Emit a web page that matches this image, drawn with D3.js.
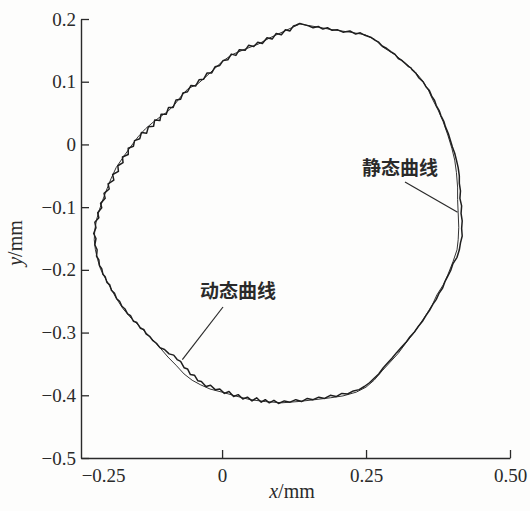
<!DOCTYPE html>
<html><head><meta charset="utf-8">
<script src="https://cdn.jsdelivr.net/npm/d3@7/dist/d3.min.js"></script>
<style>
html,body{margin:0;padding:0;background:#fdfdfc;}
svg{display:block;}
</style></head>
<body>
<svg id="chart" width="530" height="511"></svg>
<script>
const xTicks = [-0.25, 0, 0.25, 0.5];
const xTickLabels = ["\u22120.25", "0", "0.25", "0.50"];
const yTicks = [0.2, 0.1, 0, -0.1, -0.2, -0.3, -0.4, -0.5];
const yTickLabels = ["0.2", "0.1", "0", "\u22120.1", "\u22120.2", "\u22120.3", "\u22120.4", "\u22120.5"];
const xLabel = "mm";
const yLabel = "mm";
const seriesNames = ["静态曲线", "动态曲线"];

// 静态曲线 (static)
const staticX = [0.135,0.167,0.191,0.222,0.248,0.266,0.278,0.300,0.318,0.335,0.347,0.358,0.366,0.375,0.384,0.392,0.399,0.404,0.407,0.409,0.409,0.410,0.411,0.410,0.408,0.401,0.392,0.384,0.373,0.365,0.354,0.344,0.332,0.318,0.306,0.292,0.278,0.264,0.250,0.233,0.210,0.188,0.161,0.132,0.104,0.075,0.049,0.023,0.000,-0.021,-0.038,-0.052,-0.066,-0.080,-0.094,-0.108,-0.125,-0.142,-0.158,-0.172,-0.184,-0.194,-0.203,-0.211,-0.216,-0.220,-0.222,-0.221,-0.218,-0.213,-0.207,-0.200,-0.193,-0.184,-0.170,-0.159,-0.146,-0.133,-0.119,-0.106,-0.095,-0.083,-0.071,-0.059,-0.043,-0.028,-0.014,0.000,0.017,0.040,0.063,0.083,0.109];
const staticY = [0.192,0.187,0.183,0.179,0.175,0.167,0.156,0.143,0.130,0.116,0.103,0.087,0.071,0.055,0.036,0.015,-0.006,-0.025,-0.045,-0.068,-0.088,-0.109,-0.132,-0.152,-0.168,-0.187,-0.208,-0.224,-0.240,-0.256,-0.272,-0.286,-0.302,-0.318,-0.333,-0.347,-0.361,-0.376,-0.387,-0.395,-0.401,-0.404,-0.407,-0.410,-0.412,-0.410,-0.407,-0.401,-0.395,-0.390,-0.383,-0.376,-0.366,-0.352,-0.339,-0.324,-0.307,-0.291,-0.277,-0.262,-0.245,-0.228,-0.213,-0.199,-0.184,-0.168,-0.152,-0.136,-0.120,-0.104,-0.088,-0.071,-0.055,-0.037,-0.018,-0.004,0.012,0.025,0.036,0.045,0.052,0.063,0.077,0.089,0.096,0.108,0.120,0.132,0.143,0.152,0.160,0.170,0.181];

// 动态曲线 (dynamic)
const dynamicX = [0.128,0.135,0.150,0.158,0.167,0.175,0.183,0.191,0.200,0.210,0.222,0.232,0.240,0.248,0.258,0.266,0.272,0.278,0.286,0.293,0.300,0.306,0.312,0.318,0.324,0.328,0.330,0.336,0.342,0.349,0.354,0.360,0.364,0.369,0.372,0.377,0.380,0.385,0.388,0.393,0.396,0.400,0.404,0.407,0.410,0.412,0.412,0.414,0.413,0.416,0.415,0.417,0.416,0.417,0.414,0.412,0.408,0.401,0.397,0.392,0.387,0.383,0.377,0.372,0.366,0.360,0.354,0.348,0.341,0.334,0.326,0.319,0.311,0.303,0.295,0.287,0.280,0.272,0.265,0.256,0.247,0.238,0.228,0.218,0.208,0.198,0.188,0.178,0.168,0.158,0.148,0.138,0.128,0.118,0.108,0.098,0.090,0.082,0.075,0.068,0.060,0.052,0.044,0.036,0.028,0.020,0.012,0.004,-0.004,-0.012,-0.020,-0.028,-0.036,-0.042,-0.048,-0.055,-0.060,-0.066,-0.072,-0.078,-0.084,-0.092,-0.100,-0.108,-0.114,-0.120,-0.126,-0.132,-0.136,-0.142,-0.148,-0.154,-0.159,-0.164,-0.169,-0.174,-0.178,-0.183,-0.187,-0.192,-0.195,-0.200,-0.203,-0.207,-0.209,-0.213,-0.214,-0.218,-0.217,-0.221,-0.219,-0.223,-0.219,-0.221,-0.214,-0.216,-0.209,-0.211,-0.203,-0.205,-0.196,-0.198,-0.188,-0.190,-0.180,-0.181,-0.172,-0.173,-0.163,-0.163,-0.154,-0.152,-0.143,-0.140,-0.131,-0.128,-0.119,-0.117,-0.108,-0.106,-0.097,-0.093,-0.085,-0.080,-0.072,-0.068,-0.060,-0.054,-0.046,-0.040,-0.032,-0.026,-0.018,-0.012,-0.004,0.002,0.010,0.016,0.024,0.030,0.040,0.046,0.055,0.062,0.070,0.078,0.087,0.094,0.103,0.110,0.118,0.124];
const dynamicY = [0.190,0.193,0.189,0.186,0.188,0.184,0.186,0.182,0.183,0.179,0.181,0.176,0.178,0.174,0.171,0.166,0.163,0.157,0.153,0.148,0.144,0.137,0.134,0.129,0.124,0.122,0.119,0.114,0.106,0.100,0.092,0.086,0.077,0.070,0.062,0.054,0.046,0.037,0.028,0.017,0.008,-0.004,-0.014,-0.025,-0.037,-0.050,-0.062,-0.074,-0.086,-0.098,-0.110,-0.122,-0.134,-0.146,-0.157,-0.168,-0.180,-0.190,-0.201,-0.210,-0.219,-0.229,-0.237,-0.247,-0.255,-0.265,-0.273,-0.282,-0.290,-0.299,-0.307,-0.316,-0.324,-0.332,-0.341,-0.349,-0.356,-0.366,-0.372,-0.380,-0.386,-0.391,-0.393,-0.398,-0.397,-0.402,-0.400,-0.405,-0.403,-0.407,-0.405,-0.410,-0.407,-0.411,-0.409,-0.413,-0.408,-0.412,-0.407,-0.411,-0.404,-0.409,-0.403,-0.406,-0.399,-0.402,-0.394,-0.397,-0.390,-0.391,-0.384,-0.386,-0.378,-0.377,-0.368,-0.367,-0.358,-0.356,-0.346,-0.343,-0.336,-0.334,-0.327,-0.324,-0.317,-0.313,-0.306,-0.302,-0.295,-0.293,-0.284,-0.282,-0.273,-0.270,-0.262,-0.258,-0.250,-0.246,-0.237,-0.233,-0.224,-0.220,-0.211,-0.207,-0.198,-0.193,-0.184,-0.178,-0.168,-0.160,-0.150,-0.142,-0.133,-0.124,-0.117,-0.109,-0.101,-0.094,-0.086,-0.078,-0.071,-0.063,-0.057,-0.048,-0.043,-0.034,-0.029,-0.020,-0.016,-0.006,-0.003,0.006,0.009,0.019,0.018,0.028,0.029,0.039,0.038,0.048,0.048,0.059,0.059,0.071,0.072,0.082,0.084,0.094,0.093,0.103,0.104,0.114,0.114,0.124,0.126,0.134,0.135,0.144,0.142,0.151,0.150,0.158,0.156,0.163,0.161,0.170,0.168,0.177,0.175,0.183,0.181,0.189];

const svg = d3.select("#chart");
const x = d3.scaleLinear().domain([-0.245, 0.5]).range([81, 510]);
const y = d3.scaleLinear().domain([-0.5, 0.2]).range([458, 19]);

const serif = "'Liberation Serif','Times New Roman',serif";
const ink = "#2a2a2a";

// axes
const xAxis = d3.axisBottom(x).tickValues(xTicks)
  .tickFormat((d,i) => xTickLabels[i]).tickSizeInner(-8).tickSizeOuter(0).tickPadding(11);
const gx = svg.append("g").attr("transform", `translate(0,${y(-0.5)})`).call(xAxis)
  .attr("font-family", serif).attr("font-size", 19);
gx.selectAll("text").attr("fill", ink).style("font-family", serif);
gx.select(".domain").attr("stroke", ink).attr("stroke-width", 1.4);
gx.selectAll(".tick line").attr("stroke", ink).attr("stroke-width", 1.3);
gx.selectAll(".tick").filter(d => d === -0.25).each(function(){
  d3.select(this).select("line").remove();
  d3.select(this).select("text").attr("dx", 25);
});

const yAxis = d3.axisLeft(y).tickValues(yTicks)
  .tickFormat((d,i) => yTickLabels[i]).tickSizeInner(-8).tickSizeOuter(0).tickPadding(5);
const gy = svg.append("g").attr("transform", `translate(${x(-0.245)},0)`).call(yAxis)
  .attr("font-family", serif).attr("font-size", 19);
gy.selectAll("text").attr("fill", ink).style("font-family", serif);
gy.select(".domain").attr("stroke", ink).attr("stroke-width", 1.4);
gy.selectAll(".tick line").attr("stroke", ink).attr("stroke-width", 1.3);

// axis titles
const xt = svg.append("text").attr("x", 292).attr("y", 498).attr("text-anchor", "middle")
  .attr("font-family", serif).attr("font-size", 20).attr("fill", ink);
xt.append("tspan").attr("font-style", "italic").text("x");
xt.append("tspan").text("/" + xLabel);

const yt = svg.append("text").attr("transform", "translate(22,243) rotate(-90)").attr("text-anchor", "middle")
  .attr("font-family", serif).attr("font-size", 20).attr("fill", ink);
yt.append("tspan").attr("font-style", "italic").text("y");
yt.append("tspan").text("/" + yLabel);

// curves
const line = d3.line().x(d => x(d[0])).y(d => y(d[1])).curve(d3.curveLinearClosed);
const staticPts = staticX.map((v,i) => [v, staticY[i]]);
const dynamicPts = dynamicX.map((v,i) => [v, dynamicY[i]]);

svg.append("path").datum(staticPts).attr("d", line)
  .attr("fill", "none").attr("stroke", "#333").attr("stroke-width", 1.0).attr("stroke-linejoin", "round");
svg.append("path").datum(dynamicPts).attr("d", line)
  .attr("fill", "none").attr("stroke", "#1e1e1e").attr("stroke-width", 1.5).attr("stroke-linejoin", "round");

// annotations
const cjk = "'Noto Sans CJK SC','Noto Sans',sans-serif";
svg.append("line").attr("x1", 405).attr("y1", 182).attr("x2", x(0.409)).attr("y2", y(-0.108))
  .attr("stroke", ink).attr("stroke-width", 1.2);
svg.append("text").attr("x", 362).attr("y", 175).text(seriesNames[0])
  .attr("font-family", cjk).attr("font-size", 19).attr("font-weight", "bold").attr("fill", ink);

svg.append("line").attr("x1", 223).attr("y1", 307).attr("x2", x(-0.069)).attr("y2", y(-0.343))
  .attr("stroke", ink).attr("stroke-width", 1.2);
svg.append("text").attr("x", 200).attr("y", 298).text(seriesNames[1])
  .attr("font-family", cjk).attr("font-size", 19).attr("font-weight", "bold").attr("fill", ink);
</script>
</body></html>
